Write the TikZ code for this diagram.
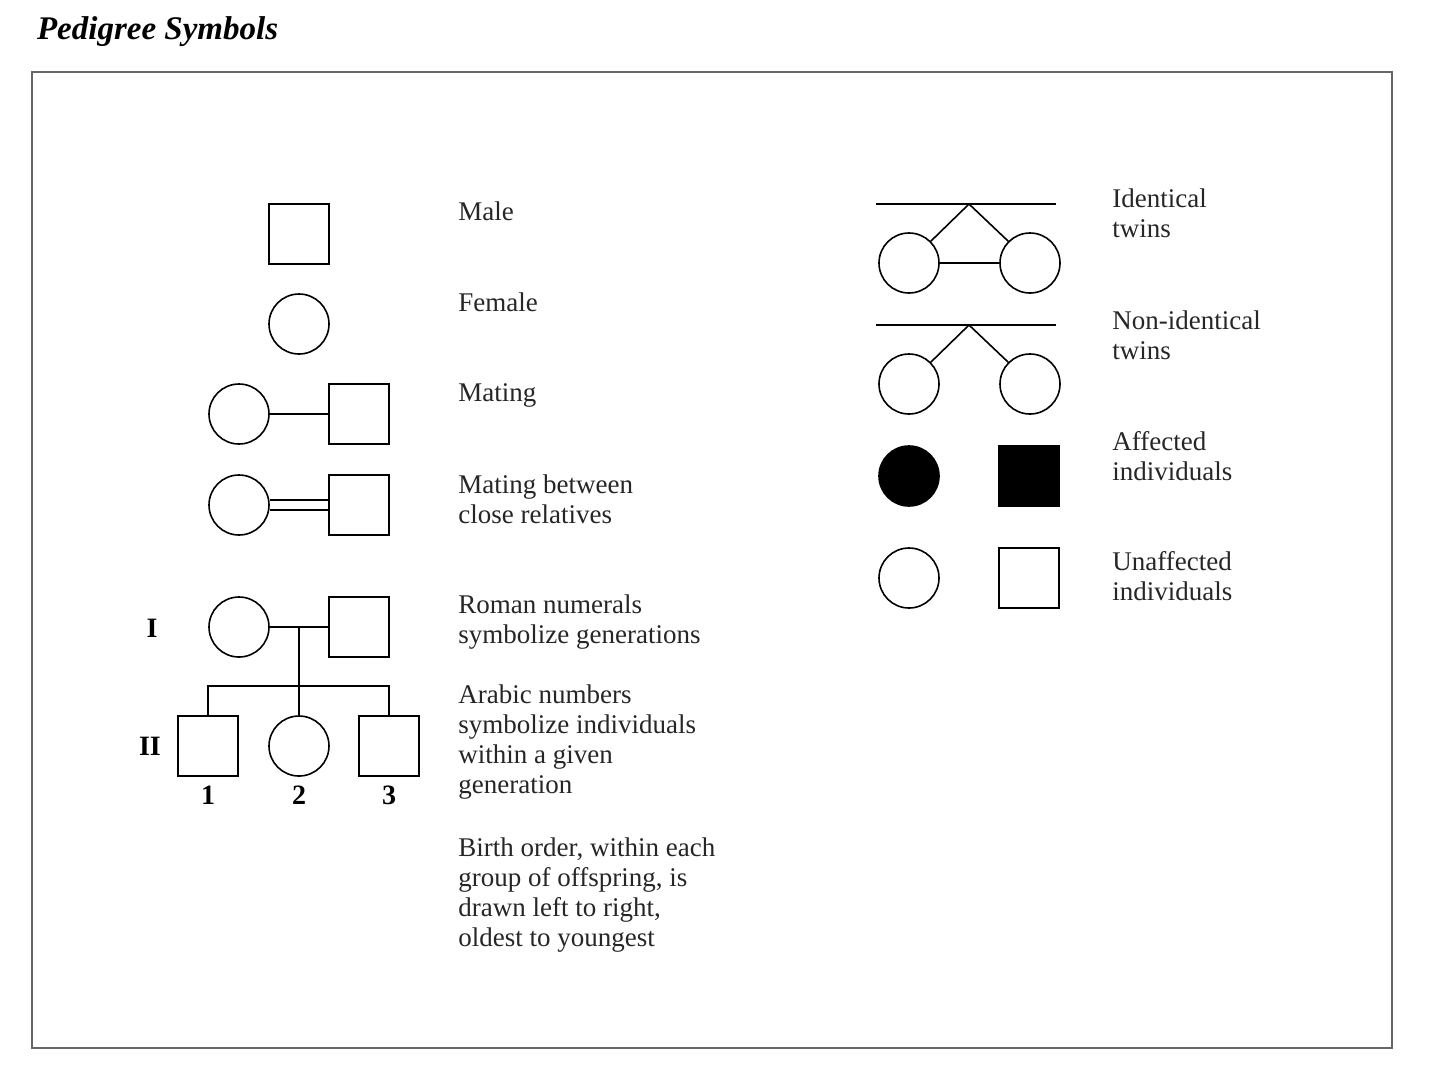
\documentclass[tikz,border=0pt]{standalone}
\usepackage{fontspec}
\setmainfont{Liberation Serif}
\begin{document}
\begin{tikzpicture}[x=0.5pt,y=-0.5pt,
  male/.style={draw,line width=0.8pt,minimum size=30pt,inner sep=0pt},
  female/.style={draw,circle,line width=0.8pt,minimum size=30pt,inner sep=0pt},
  lbl/.style={anchor=north west,align=left,inner sep=0pt,font=\fontsize{13.5}{15}\selectfont,text=black!85},
  num/.style={font=\bfseries\fontsize{14}{15}\selectfont},
  ln/.style={line width=0.8pt}]
\useasboundingbox (0,0) rectangle (1440,1088);
\node[anchor=west,font=\bfseries\itshape\fontsize{16.5}{18}\selectfont] (title) at (30,32) {Pedigree Symbols};
\draw[black!60,line width=1.2pt] (32,72) rectangle (1392,1048);
% left column
\node[male] (m) at (299,234) {};
\node[female] (f) at (299,324) {};
\node[female] (mf) at (239,414) {};
\node[male] (mm) at (359,414) {};
\draw[ln] (mf) -- (mm);
\node[female] (cf) at (239,505) {};
\node[male] (cm) at (359,505) {};
\draw[ln] ([yshift=2.5pt]cf.east) -- ([yshift=2.5pt]cm.west);
\draw[ln] ([yshift=-2.5pt]cf.east) -- ([yshift=-2.5pt]cm.west);
\node[female] (gf) at (239,627) {};
\node[male] (gm) at (359,627) {};
\draw[ln] (gf) -- (gm);
\coordinate (mid) at (299,627);
\coordinate (bar) at (299,686);
\node[male] (c1) at (208,746) {};
\node[female] (c2) at (299,746) {};
\node[male] (c3) at (389,746) {};
\draw[ln] (mid) -- (c2.north);
\draw[ln] (c1.north) |- (bar) -| (c3.north);
\node[num] (g1) at (152,628) {I};
\node[num] (g2) at (150,746) {II};
\node[num] (n1) at (208,795) {1};
\node[num] (n2) at (299,795) {2};
\node[num] (n3) at (389,795) {3};
\node[lbl] (t1) at (458,201) {Male};
\node[lbl] (t2) at (458,292) {Female};
\node[lbl] (t3) at (458,383) {Mating};
\node[lbl] (t4) at (458,474) {Mating between\\close relatives};
\node[lbl] (t5) at (458,594) {Roman numerals\\symbolize generations};
\node[lbl] (t6) at (458,684) {Arabic numbers\\symbolize individuals\\within a given\\generation};
\node[lbl] (t7) at (458,837) {Birth order, within each\\group of offspring, is\\drawn left to right,\\oldest to youngest};
% right column
\coordinate (l1a) at (876,204); \coordinate (l1b) at (1056,204); \coordinate (ap1) at (969,204);
\draw[ln] (l1a) -- (l1b);
\node[female] (it1) at (909,263) {};
\node[female] (it2) at (1030,263) {};
\draw[ln] (it1.north east) -- (ap1) -- (it2.north west);
\draw[ln] (it1) -- (it2);
\coordinate (l2a) at (876,325); \coordinate (l2b) at (1056,325); \coordinate (ap2) at (969,325);
\draw[ln] (l2a) -- (l2b);
\node[female] (nt1) at (909,384) {};
\node[female] (nt2) at (1030,384) {};
\draw[ln] (nt1.north east) -- (ap2) -- (nt2.north west);
\node[female,fill=black] (af) at (909,476) {};
\node[male,fill=black] (am) at (1029,476) {};
\node[female] (uf) at (909,578) {};
\node[male] (um) at (1029,578) {};
\node[lbl] (r1) at (1112,188) {Identical\\twins};
\node[lbl] (r2) at (1112,310) {Non-identical\\twins};
\node[lbl] (r3) at (1112,431) {Affected\\individuals};
\node[lbl] (r4) at (1112,551) {Unaffected\\individuals};
\end{tikzpicture}
\end{document}
